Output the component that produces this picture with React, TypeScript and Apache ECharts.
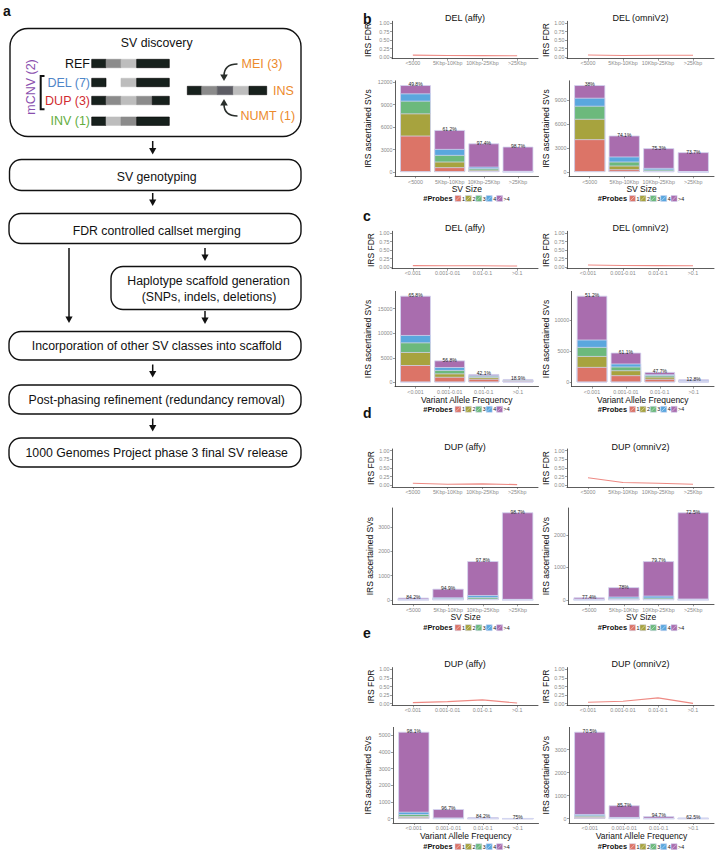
import React, { useEffect, useRef } from 'react';
import * as echarts from 'echarts';

const FONT = '"Liberation Sans", Arial, Helvetica, sans-serif';

// ---------- categories / tick labels ----------
const SIZE_CATS = ['<5000', '5Kbp-10Kbp', '10Kbp-25Kbp', '>25Kbp'];
const VAF_CATS = ['<0.001', '0.001-0.01', '0.01-0.1', '>0.1'];
const PROBE_LABELS = ['1', '2', '3', '4', '>4'];
const PROBE_COLORS = ['#dc7467', '#a7a33e', '#6cb97c', '#5aa7de', '#a96dae'];
const FDR_TICKS = [0, 0.25, 0.5, 0.75, 1];

// ---------- IRS FDR lines ----------
const FDR_B_AFFY = [0.055, 0.045, 0.04, 0.035];
const FDR_B_OMNI = [0.06, 0.045, 0.05, 0.05];
const FDR_C_AFFY = [0.04, 0.035, 0.035, 0.03];
const FDR_C_OMNI = [0.06, 0.045, 0.04, 0.035];
const FDR_D_AFFY = [0.06, 0.03, 0.04, 0.02];
const FDR_D_OMNI = [0.22, 0.08, 0.06, 0.03];
const FDR_E_AFFY = [0.03, 0.06, 0.11, 0.02];
const FDR_E_OMNI = [0.04, 0.07, 0.17, 0.01];

// ---------- IRS ascertained SVs by #probes (rows: 1,2,3,4,>4) ----------
const CNT_B_AFFY = [[4850, 630, 150, 20], [2970, 750, 150, 20], [1690, 890, 200, 40], [980, 800, 200, 60], [1110, 2530, 3120, 3240]];
const CNT_B_OMNI = [[4080, 330, 80, 10], [2540, 460, 80, 10], [1630, 500, 150, 20], [1000, 630, 190, 40], [1580, 2620, 2460, 2380]];
const CNT_C_AFFY = [[3500, 1100, 700, 300], [2660, 700, 350, 80], [1960, 700, 250, 80], [1510, 600, 120, 60], [8020, 1350, 250, 130]];
const CNT_C_OMNI = [[2470, 1130, 550, 120], [1770, 800, 350, 60], [1460, 600, 250, 60], [1190, 490, 130, 120], [7090, 1770, 380, 120]];
const CNT_D_AFFY = [[5, 10, 20, 5], [5, 15, 30, 5], [15, 50, 70, 10], [30, 30, 80, 20], [40, 355, 1400, 3570]];
const CNT_D_OMNI = [[5, 10, 10, 5], [5, 10, 20, 5], [10, 40, 40, 10], [20, 40, 60, 20], [40, 290, 1060, 2650]];
const CNT_E_AFFY = [[70, 5, 2, 1], [80, 5, 3, 1], [120, 10, 5, 2], [140, 30, 10, 10], [4790, 520, 70, 6]];
const CNT_E_OMNI = [[60, 5, 2, 2], [40, 10, 3, 2], [45, 20, 5, 3], [55, 35, 10, 20], [3580, 510, 90, 13]];

// ---------- bar top labels ----------
const PCT_B_AFFY = ['49.8%', '61.2%', '97.4%', '98.7%'];
const PCT_B_OMNI = ['38%', '74.1%', '75.3%', '73.7%'];
const PCT_C_AFFY = ['65.8%', '56.8%', '42.1%', '18.9%'];
const PCT_C_OMNI = ['51.2%', '61.1%', '47.7%', '12.8%'];
const PCT_D_AFFY = ['84.2%', '94.9%', '97.8%', '98.7%'];
const PCT_D_OMNI = ['77.4%', '78%', '79.7%', '72.5%'];
const PCT_E_AFFY = ['98.1%', '96.7%', '84.2%', '75%'];
const PCT_E_OMNI = ['70.5%', '85.7%', '94.7%', '62.5%'];

// ---------- y tick labels ----------
const TICKS_B_AFFY = [0, 3000, 6000, 9000, 12000];
const TICKS_B_OMNI = [0, 3000, 6000, 9000];
const TICKS_C_AFFY = [0, 5000, 10000, 15000];
const TICKS_C_OMNI = [0, 5000, 10000];
const TICKS_D_AFFY = [0, 1000, 2000, 3000];
const TICKS_D_OMNI = [0, 1000, 2000];
const TICKS_E_AFFY = [0, 1000, 2000, 3000, 4000, 5000];
const TICKS_E_OMNI = [0, 1000, 2000, 3000];

const PLOTS = [
  { row: 0, col: 0, title: 'DEL (affy)', cats: SIZE_CATS, xName: 'SV Size', fdr: FDR_B_AFFY, cnt: CNT_B_AFFY, pct: PCT_B_AFFY, ticks: TICKS_B_AFFY },
  { row: 0, col: 1, title: 'DEL (omniV2)', cats: SIZE_CATS, xName: 'SV Size', fdr: FDR_B_OMNI, cnt: CNT_B_OMNI, pct: PCT_B_OMNI, ticks: TICKS_B_OMNI },
  { row: 1, col: 0, title: 'DEL (affy)', cats: VAF_CATS, xName: 'Variant Allele Frequency', fdr: FDR_C_AFFY, cnt: CNT_C_AFFY, pct: PCT_C_AFFY, ticks: TICKS_C_AFFY },
  { row: 1, col: 1, title: 'DEL (omniV2)', cats: VAF_CATS, xName: 'Variant Allele Frequency', fdr: FDR_C_OMNI, cnt: CNT_C_OMNI, pct: PCT_C_OMNI, ticks: TICKS_C_OMNI },
  { row: 2, col: 0, title: 'DUP (affy)', cats: SIZE_CATS, xName: 'SV Size', fdr: FDR_D_AFFY, cnt: CNT_D_AFFY, pct: PCT_D_AFFY, ticks: TICKS_D_AFFY },
  { row: 2, col: 1, title: 'DUP (omniV2)', cats: SIZE_CATS, xName: 'SV Size', fdr: FDR_D_OMNI, cnt: CNT_D_OMNI, pct: PCT_D_OMNI, ticks: TICKS_D_OMNI },
  { row: 3, col: 0, title: 'DUP (affy)', cats: VAF_CATS, xName: 'Variant Allele Frequency', fdr: FDR_E_AFFY, cnt: CNT_E_AFFY, pct: PCT_E_AFFY, ticks: TICKS_E_AFFY },
  { row: 3, col: 1, title: 'DUP (omniV2)', cats: VAF_CATS, xName: 'Variant Allele Frequency', fdr: FDR_E_OMNI, cnt: CNT_E_OMNI, pct: PCT_E_OMNI, ticks: TICKS_E_OMNI },
];

// ---------- layout (pixels) ----------
const ROWS = [
  { label: 'b', labelY: 19, titleY: 18, fdrTop: 21.3, fdrBot: 58.7, barTop: 80.8, barBot: 176.3, legendY: 198.5 },
  { label: 'c', labelY: 216, titleY: 228, fdrTop: 231.3, fdrBot: 268.7, barTop: 291.4, barBot: 386.6, legendY: 409.3 },
  { label: 'd', labelY: 413, titleY: 446.7, fdrTop: 449, fdrBot: 487, barTop: 508, barBot: 604.3, legendY: 627.7 },
  { label: 'e', labelY: 633, titleY: 664.3, fdrTop: 667.6, fdrBot: 705.4, barTop: 727.4, barBot: 823, legendY: 846.7 },
];
const COLS = [
  { fdrL: 392, fdrR: 538, barR: 538.5, titleX: 465, legTextR: 452.5, legKey0: 455 },
  { fdrL: 567, fdrR: 714, barR: 714, titleX: 640.5, legTextR: 627, legKey0: 629.5 },
];
const BAR_LEFT = [395, 569, 395, 571.7, 392.5, 568.3, 393, 569];
const FDR_NAME_X = [368, 551, 373, 551, 374, 550, 373, 550];
const BAR_NAME_X = [368, 551, 368, 547, 373, 547, 368, 550];

const AXIS_LINE = { color: '#333', width: 0.8 };
const TICK_LINE = { color: '#555', width: 0.6 };
const TICK_TEXT = '#8a8a8a';
const BAR_BORDER = '#d3d5f0';
const FDR_COLOR = '#ee8a84';
const AXIS_TITLE_SIZE = 8.5;

function txt(x: number, y: number, text: string, o: any = {}) {
  const align = o.align || 'center';
  const va = o.va || 'middle';
  return {
    type: 'text', x, y, rotation: o.rot || 0, silent: true, z: 10,
    style: {
      text, fill: o.fill || '#111', fontSize: o.size || 12.3, fontWeight: o.weight || 'normal',
      fontFamily: FONT, align, verticalAlign: va, textAlign: align, textVerticalAlign: va,
    },
  };
}

function valueXAxis(gi: number, cats: string[], name: string, margin: number) {
  return {
    type: 'value', gridIndex: gi, min: 0.4, max: 4.6,
    axisLine: { show: true, onZero: false, lineStyle: AXIS_LINE },
    axisTick: { show: true, length: 2, customValues: [1, 2, 3, 4], lineStyle: TICK_LINE },
    axisLabel: {
      show: true, customValues: [1, 2, 3, 4], formatter: (v: number) => cats[Math.round(v) - 1] ?? '',
      fontSize: 5.3, color: TICK_TEXT, margin, fontFamily: FONT,
    },
    splitLine: { show: false },
    name, nameLocation: 'middle', nameGap: 6.5,
    nameTextStyle: { fontSize: AXIS_TITLE_SIZE, color: '#111', fontFamily: FONT },
  };
}

function valueYAxis(gi: number, min: number, max: number, ticks: number[], fmt: (v: number) => string, name: string, nameGap: number) {
  return {
    type: 'value', gridIndex: gi, min, max,
    axisLine: { show: true, onZero: false, lineStyle: AXIS_LINE },
    axisTick: { show: true, length: 2, customValues: ticks, lineStyle: TICK_LINE },
    axisLabel: { show: true, customValues: ticks, formatter: fmt, fontSize: 5.3, color: TICK_TEXT, margin: 2.5, fontFamily: FONT },
    splitLine: { show: false },
    name, nameLocation: 'middle', nameGap, nameRotate: 90,
    nameTextStyle: { fontSize: AXIS_TITLE_SIZE, color: '#111', fontFamily: FONT },
  };
}

function arrowDown(x: number, y1: number, tip: number) {
  return [
    { type: 'line', silent: true, shape: { x1: x, y1, x2: x, y2: tip - 5 }, style: { stroke: '#111', lineWidth: 1.5 } },
    { type: 'polygon', silent: true, shape: { points: [[x - 3.6, tip - 6.5], [x + 3.6, tip - 6.5], [x, tip]] }, style: { fill: '#111' } },
  ];
}

function box(x: number, y: number, w: number, h: number, r: number) {
  return { type: 'rect', silent: true, shape: { x, y, width: w, height: h, r }, style: { fill: 'none', stroke: '#111', lineWidth: 1.4 } };
}

const BLK = '#17211d';
const GRY = '#8b8b8b';
const LGT = '#bdbdbd';
const DGR = '#5d5d64';

function block(x1: number, x2: number, y: number, fill: string) {
  return {
    type: 'rect', silent: true, shape: { x: x1, y, width: x2 - x1, height: 8.4 },
    style: { fill, stroke: fill === BLK ? '#000' : fill, lineWidth: 0.6 },
  };
}

function flowchart() {
  const g: any[] = [];
  g.push(txt(3, 10.5, 'a', { size: 14, weight: 'bold', align: 'left' }));
  g.push(box(10, 28.5, 291, 108, 18));
  g.push(txt(156.7, 43.3, 'SV discovery'));
  g.push(txt(90, 63.5, 'REF', { align: 'right', size: 12.5 }));
  g.push(txt(90, 82.5, 'DEL (7)', { align: 'right', size: 12.5, fill: '#4f86c8' }));
  g.push(txt(90, 100.5, 'DUP (3)', { align: 'right', size: 12.5, fill: '#d12b2f' }));
  g.push(txt(90, 121, 'INV (1)', { align: 'right', size: 12.5, fill: '#63ad3d' }));
  g.push(txt(30.7, 87, 'mCNV (2)', { size: 12.5, fill: '#8a4fae', rot: Math.PI / 2 }));
  g.push({ type: 'polyline', silent: true, shape: { points: [[44.5, 76], [40.7, 76], [40.7, 109.3], [44.5, 109.3]] }, style: { stroke: '#111', lineWidth: 2, fill: 'none' } });
  const X = [91.7, 106, 121, 136.7, 152.3, 169.3];
  g.push(block(X[0], X[1], 59.3, BLK), block(X[1], X[2], 59.3, GRY), block(X[2], X[3], 59.3, LGT), block(X[3], X[5], 59.3, BLK));
  g.push(block(X[0], X[1], 78.3, BLK), block(X[2], X[3], 78.3, LGT), block(X[3], X[5], 78.3, BLK));
  g.push(block(X[0], X[1], 96.3, BLK), block(X[1], X[2], 96.3, GRY), block(X[2], X[3], 96.3, LGT), block(X[3], X[4], 96.3, GRY), block(X[4], X[5], 96.3, BLK));
  g.push(block(X[0], X[1], 117, BLK), block(X[1], X[2], 117, LGT), block(X[2], X[3], 117, GRY), block(X[3], X[5], 117, BLK));
  const I = [187.3, 201.7, 217.3, 233.3, 249, 266.7];
  g.push(block(I[0], I[1], 86.3, BLK), block(I[1], I[2], 86.3, GRY), block(I[2], I[3], 86.3, DGR), block(I[3], I[4], 86.3, LGT), block(I[4], I[5], 86.3, BLK));
  g.push(txt(273, 91, 'INS', { align: 'left', size: 12.5, fill: '#ec8a2c' }));
  g.push(txt(241.5, 64, 'MEI (3)', { align: 'left', size: 12.5, fill: '#ec8a2c' }));
  g.push(txt(240.5, 116, 'NUMT (1)', { align: 'left', size: 12.5, fill: '#ec8a2c' }));
  g.push({ type: 'bezierCurve', silent: true, shape: { x1: 237.5, y1: 64, x2: 224, y2: 76, cpx1: 224, cpy1: 64 }, style: { stroke: '#2a2f2c', lineWidth: 1.6, fill: 'none' } });
  g.push({ type: 'polygon', silent: true, shape: { points: [[220.2, 74.5], [227.8, 74.5], [224, 81]] }, style: { fill: '#2a2f2c' } });
  g.push({ type: 'bezierCurve', silent: true, shape: { x1: 237.5, y1: 116, x2: 224, y2: 104, cpx1: 224, cpy1: 116 }, style: { stroke: '#2a2f2c', lineWidth: 1.6, fill: 'none' } });
  g.push({ type: 'polygon', silent: true, shape: { points: [[220.2, 105.5], [227.8, 105.5], [224, 99]] }, style: { fill: '#2a2f2c' } });
  g.push(...arrowDown(152.7, 141, 154.5));
  g.push(box(9.5, 159.5, 291.5, 31, 12));
  g.push(txt(156.7, 176.5, 'SV genotyping'));
  g.push(...arrowDown(152.7, 193, 206));
  g.push(box(9, 213.5, 292, 30, 12));
  g.push(txt(156.7, 230.5, 'FDR controlled callset merging'));
  g.push(...arrowDown(69, 248, 323));
  g.push(...arrowDown(205, 248, 261));
  g.push(box(111, 266.5, 190, 43, 12));
  g.push(txt(208.5, 280.7, 'Haplotype scaffold generation'));
  g.push(txt(209, 297.3, '(SNPs, indels, deletions)'));
  g.push(...arrowDown(205, 311, 324));
  g.push(box(9, 331.5, 292, 28.5, 12));
  g.push(txt(156.7, 345.5, 'Incorporation of other SV classes into scaffold'));
  g.push(...arrowDown(152.7, 364.5, 377.5));
  g.push(box(9, 385, 292, 29, 12));
  g.push(txt(156.7, 399.5, 'Post-phasing refinement (redundancy removal)'));
  g.push(...arrowDown(152.7, 418.5, 431.5));
  g.push(box(9, 438, 292, 29, 12));
  g.push(txt(156.7, 452.5, '1000 Genomes Project phase 3 final SV release'));
  return g;
}

function buildOption() {
  const grid: any[] = [];
  const xAxis: any[] = [];
  const yAxis: any[] = [];
  const series: any[] = [];
  const graphic: any[] = flowchart();

  ROWS.forEach((r) => graphic.push(txt(363, r.labelY, r.label, { size: 14, weight: 'bold', align: 'left' })));

  PLOTS.forEach((p, i) => {
    const row = ROWS[p.row];
    const col = COLS[p.col];
    const gF = 2 * i;
    const gB = 2 * i + 1;
    const barL = BAR_LEFT[i];
    grid.push({ left: col.fdrL, top: row.fdrTop, width: col.fdrR - col.fdrL, height: row.fdrBot - row.fdrTop });
    grid.push({ left: barL, top: row.barTop, width: col.barR - barL, height: row.barBot - row.barTop });

    xAxis.push(valueXAxis(gF, p.cats, '', 2));
    xAxis.push(valueXAxis(gB, p.cats, p.xName, 2.7));

    yAxis.push(valueYAxis(gF, -0.05, 1.05, FDR_TICKS, (v) => v.toFixed(2), 'IRS FDR', col.fdrL - FDR_NAME_X[i] - AXIS_TITLE_SIZE / 2));

    const n = p.cats.length;
    const cum: number[][] = [];
    let run = new Array(n).fill(0);
    p.cnt.forEach((rowVals) => {
      run = run.map((v: number, j: number) => v + rowVals[j]);
      cum.push(run.slice());
    });
    const maxTotal = Math.max(...cum[cum.length - 1]);
    yAxis.push(valueYAxis(gB, -0.05 * maxTotal, 1.05 * maxTotal, p.ticks, (v) => String(Math.round(v)), 'IRS ascertained SVs', barL - BAR_NAME_X[i] - AXIS_TITLE_SIZE / 2));

    series.push({
      type: 'line', name: 'FDR', xAxisIndex: gF, yAxisIndex: gF, silent: true,
      data: p.fdr.map((v, j) => [j + 1, v]), symbol: 'none', showSymbol: false,
      lineStyle: { color: FDR_COLOR, width: 1.1 },
    });

    for (let k = p.cnt.length - 1; k >= 0; k--) {
      const isTop = k === p.cnt.length - 1;
      series.push({
        type: 'bar', name: PROBE_LABELS[k], xAxisIndex: gB, yAxisIndex: gB, silent: true,
        data: cum[k].map((v, j) => [j + 1, v]),
        barWidth: '90%', barGap: '-100%',
        itemStyle: { color: PROBE_COLORS[k], borderColor: BAR_BORDER, borderWidth: 0.8 },
        label: isTop
          ? { show: true, position: 'top', distance: 0, offset: [0, 1.8], fontSize: 5, color: '#222', fontFamily: FONT, formatter: (pp: any) => p.pct[pp.dataIndex] }
          : { show: false },
      });
    }

    graphic.push(txt(col.titleX, row.titleY, p.title, { size: 9 }));
    graphic.push(txt(col.legTextR, row.legendY, '#Probes', { size: 7.4, weight: 'bold', align: 'right' }));
    PROBE_LABELS.forEach((lab, k) => {
      const x = col.legKey0 + k * 10.4;
      const cy = row.legendY;
      graphic.push({ type: 'rect', silent: true, shape: { x, y: cy - 3, width: 6, height: 6 }, style: { fill: PROBE_COLORS[k], stroke: BAR_BORDER, lineWidth: 0.5 } });
      graphic.push({ type: 'line', silent: true, shape: { x1: x + 0.8, y1: cy + 2.2, x2: x + 5.2, y2: cy - 2.2 }, style: { stroke: 'rgba(255,255,255,0.75)', lineWidth: 0.6 } });
      graphic.push(txt(x + 7, cy, lab, { size: 5.3, align: 'left' }));
    });
  });

  return {
    animation: false,
    backgroundColor: '#ffffff',
    textStyle: { fontFamily: FONT },
    grid, xAxis, yAxis, series, graphic,
  };
}

const App = () => {
  const ref = useRef<HTMLDivElement>(null);
  useEffect(() => {
    if (!ref.current) return;
    const chart = echarts.init(ref.current, null, { renderer: 'svg' });
    chart.setOption(buildOption() as any);
    return () => chart.dispose();
  }, []);
  return <div ref={ref} style={{ position: 'absolute', left: 0, top: 0, width: 716, height: 850, background: '#fff' }} />;
};

export default App;
